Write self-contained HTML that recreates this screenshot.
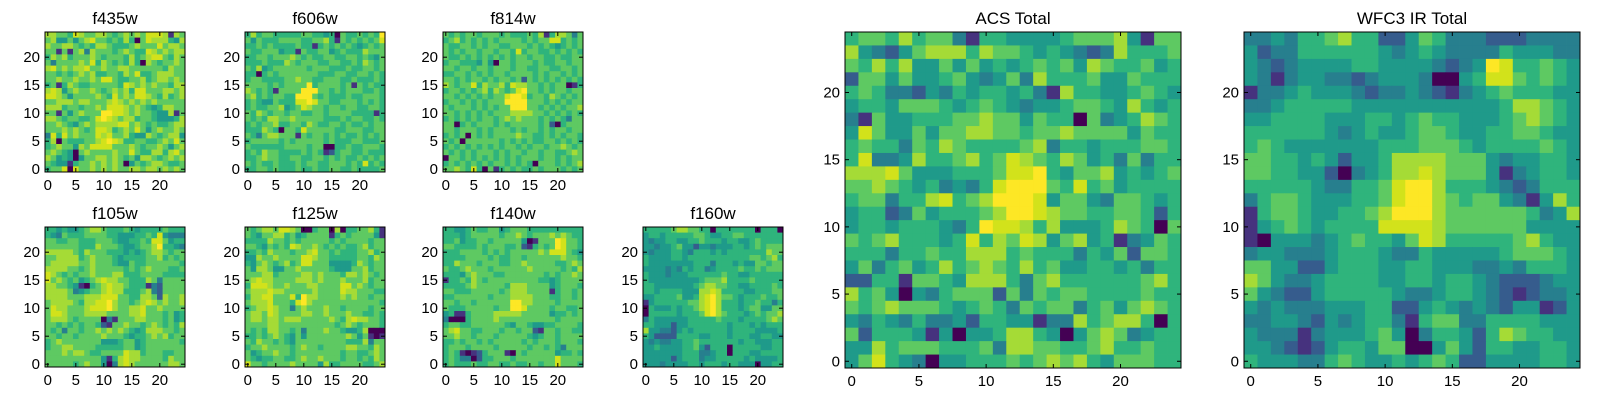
<!DOCTYPE html>
<html><head><meta charset="utf-8"><style>
body{margin:0;background:#fff;}
svg{display:block;font-family:"Liberation Sans",sans-serif;}
</style></head><body>
<svg id="fig" width="1600" height="400" viewBox="0 0 1600 400" xmlns="http://www.w3.org/2000/svg"></svg>
<script>
// Levels 0..9 per cell (viridis-like). Row strings listed from y=24 (top) down to y=0.
const f435w = ["7766587667765676768887176","6744646786656575068777547","7667765657765556766686776","6616167376665676558767677","5767566676566657567886576","6366667685765657507656676","7867677866766776666665766","6656567675566576855677766","6676676676886556675677676","5615765566666587676766577","7874676676567675886667767","8876466667658676887657567","6677767766678767676766666","7775665667688876765457766","6616467666998876766544716","7765665568987677566544457","6676546767777886765655677","6667676568875676864676676","3858676668786675447656774","5706555667898755665567686","5676647688886667656676467","6765406766667668655775786","7645404667767656477656767","6544156676767604656776556","5668086676767667767767676"];
const f606w = ["5756655555665545065565659","6465556666556675165656568","5565655556551565656545656","6556664551655664565557666","5566566676565566556656546","5556555765666556655657656","6574566666656665556556656","5505656666666555665566565","5665555667665566655655565","6666565666695666656165655","7656516666999665656665565","6756566559996565556556665","5654465558898665566656565","5655667456876656656655665","6576566566556656666555515","6565776676666655565665565","5656675566576556656556566","5557650665866666556665566","6536776661656656565565656","5666665656666656555665556","6555555666656600556556665","5657665555656512566556555","5567665566556656565565656","6565565556566556665658565","5566565556556556655655556"];
const f814w = ["6565665666565556571577636","5675656565666656566885656","6556656566556665656545656","6565665665665856655656565","6556565656565665665565566","5665554640665666565566566","6656656656665665566556656","5566565656656666565665656","6656566565665626565656565","7656685766758776656566015","5665656757656896656566566","6656565656689985665765656","5665656566699996665656566","6566656565669996656565667","6656565656667777665656565","5656565665676766656565366","6605656665656666656205666","6656665656665656656566566","5656065656666766556565665","6560666666565656556656565","5656565656566565665667656","6565656665656656656655676","0665656565656566656656566","5656565656656565066656567","6676585061565655656665656"];
const f105w = ["5545445677655565455556555","5436555666655444556584333","6655665556665445565886455","6666665557666544566795543","7777765766655545456776566","6677775676665455556675656","6777776676665446556666665","7777665676666656567666556","8765656676667755566665555","8676564567877665557636666","7766541056787765551326666","7777634566787755567326666","7777666777888665577627667","6777765778897665678767667","6877666788897667786676666","6887666777766667786665645","6777656666031666776665645","6656565665216676656765657","6563665667676765457776656","6656656666766654556767566","5676666666444566456666665","5667766665555566456666666","6667677655666687756665566","6666666666415787766665766","6666656766403787666666776"];
const f125w = ["6567768876005660705566751","6546677564566661565666641","5555766565666665656666566","6654656587667656565567566","5565766656678665655566756","4476676666887665555566576","5467656756886664444576566","6477644667666665444667566","6667756666776766657767656","6787766667776766676667566","5888766766677666688676566","6777877666667666687766655","5778866685977666676766566","6777866658976666666666665","5677876636766676656666566","6776876666776676667665565","6776776777666667657877665","6666776666666666567656665","6565776656366676654457000","5565676546466666667646101","6576656546666666665557366","5667666656766566667766576","6456676656666666656655676","6545566556766766656656576","8665666676666475566665567"];
const f140w = ["5544565566456665555555555","5554566666566765666767655","5564556656666640166698665","6655556566655621565698665","5556666565656666676888654","5555666656556656666667665","5576665666556676666655676","6556766656666667666665657","5554676665566666665656676","1556576566666666655456666","5555676666657776666456665","6655566666567776666156656","5566666656667777666556656","6656656666669977666656666","6555666665669986666566556","4511566667777766666455656","3000566667666666666656666","5665566666654665445566665","6786655666566566216656655","6676656665666665456656666","5565665656666656566656665","5666566665666665665653666","5651012566610656666645565","5653302556665666666686666","5655565566556556656686665"];
const f160w = ["5555567766550555555505550","4554555556654455665555555","4344554455655545544565555","4434456442443444554565666","4344455435554545555555766","5444455455555555555665675","5444444445553555454466566","4444343545534555565565666","5444344455555565544555555","5444444444566675555655555","5544444445677665544555565","5545555444778755554455566","4455556445789766545556556","1455555566789755545565535","0544454556789755545664466","0555554555689765554565667","3544444455555655545555676","5544424455555554555454555","7443324545555554555544445","5422225555445554555445544","4343344556555555545544455","4454444556425550555554455","4444444555334550555445555","4444424555344555554544445","4443444455455545544404455"];
const acsTotal = ["5665756631554444566674166","7432467775766545432375556","6575744646454565647655645","2664644564346375556446555","5653324354554531755445654","4554666545654344566547545","3164455566766465506345765","4864464667766566766664655","5655365765555673554555665","5833475567568765764536355","7778644455568895466745456","6676545343589996585645555","5663557856799984664366545","4552364555679987665566525","4554555435988757444576506","6567555458576874674513465","5553556557775655535462665","4635645756765756445545355","2255166547775367555555675","7564043566626365665555655","6567666545653656635646765","4354353342554413375677505","6255541404457754046763455","4475666555637766556755655","4685430445556567675466655"];
const wfc3Total = ["3343556755224653332223333","4233555555434543333544433","4323444455444432349855654","4313443323444300458865654","1334544432334321345655544","3345555544444444444577654","4455554445545655444567654","5555554345445665445566544","5654444444555666545555654","6655454244577776664344554","6655442034577876664134554","5555543355689975554323555","3566544455689976566431475","1566544556799976666665347","1456545555888876666664444","1044434565546875555567544","3443334555433544444566654","6644224555445544433435554","7643345555445545543222344","6432245555543345543212334","4343334445522454343244124","3344324345531566335555444","4333134445640355425765544","4432124554660046425544554","5444335654454565224444554"];
const xTicks = [0, 5, 10, 15, 20];
const yTicks = [0, 5, 10, 15, 20];
const PAL = ["#440154","#46327e","#365c8d","#277f8e","#1f9a8a","#2fb47c","#5ec962","#a5db36","#d2e21b","#fde725"];
const NS = "http://www.w3.org/2000/svg";
const fig = document.getElementById("fig");
function mk(tag, attrs, parent){const e=document.createElementNS(NS,tag);for(const k in attrs)e.setAttribute(k,attrs[k]);(parent||fig).appendChild(e);return e;}
function panel(key, title, rows, x0, y0, w, h){
  const g = mk("g",{});
  
  
  const n = 25, cw = w/n, ch = h/n;
  const sx = v => x0 + (v + 0.5) * cw;
  const sy = v => y0 + h - (v + 0.5) * ch;
  for (let r = 0; r < n; r++) {
    const yv = n - 1 - r;
    const s = rows[r] || "";
    for (let c = 0; c < n; c++) {
      const v = parseInt(s.charAt(c) || "5", 10);
      const cell = mk("rect",{x:(sx(c)-cw/2).toFixed(2),y:(sy(yv)-ch/2).toFixed(2),width:(cw+0.4).toFixed(2),height:(ch+0.4).toFixed(2),fill:PAL[v]},g);
      
      
    }
  }
  const fr = mk("rect",{x:x0,y:y0,width:w,height:h,fill:"none",stroke:"#000","stroke-width":1},g);
  
  
  xTicks.forEach(t => {
    const X = sx(t);
    mk("line",{x1:X,y1:y0+h,x2:X,y2:y0+h-4,stroke:"#000"},g);
    mk("line",{x1:X,y1:y0,x2:X,y2:y0+4,stroke:"#000"},g);
    const tl = mk("text",{x:X,y:y0+h+18,"text-anchor":"middle","font-size":15},g);
    tl.textContent = t;
    
    
  });
  yTicks.forEach(t => {
    const Y = sy(t);
    mk("line",{x1:x0,y1:Y,x2:x0+4,y2:Y,stroke:"#000"},g);
    mk("line",{x1:x0+w,y1:Y,x2:x0+w-4,y2:Y,stroke:"#000"},g);
    const tl = mk("text",{x:x0-5,y:Y+5,"text-anchor":"end","font-size":15},g);
    tl.textContent = t;
    
    
  });
  const tt = mk("text",{x:x0+w/2,y:y0-8,"text-anchor":"middle","font-size":17},g);
  tt.textContent = title;
  
  
}
panel("f435w","f435w",f435w,45,32,140,140);
panel("f606w","f606w",f606w,245,32,140,140);
panel("f814w","f814w",f814w,443,32,140,140);
panel("f105w","f105w",f105w,45,227,140,140);
panel("f125w","f125w",f125w,245,227,140,140);
panel("f140w","f140w",f140w,443,227,140,140);
panel("f160w","f160w",f160w,643,227,140,140);
panel("acs-total","ACS Total",acsTotal,845,32,336,336);
panel("wfc3-ir-total","WFC3 IR Total",wfc3Total,1244,32,336,336);
</script>
</body></html>
